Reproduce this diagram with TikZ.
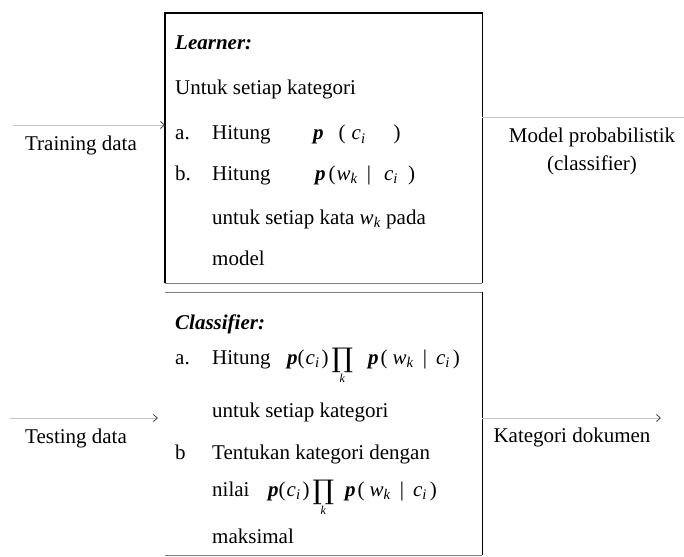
\documentclass[tikz,border=0pt]{standalone}
\usepackage{fontspec}
\setmainfont{Liberation Serif}
\newfontfamily\symfnt{DejaVu Serif}
\usetikzlibrary{arrows.meta}
\newcommand{\sbi}[1]{\textsubscript{\textit{#1}}}
\newcommand{\pp}{\textbf{\textit{p}}}
\newcommand{\prodk}{\raisebox{-3pt}{\symfnt\fontsize{27}{27}\selectfont\char"220F}\makebox[0pt][r]{\raisebox{-18pt}{\fontsize{12}{12}\selectfont\textit{k}}\hspace{8pt}}}
\newcommand{\formula}[1]{\pp(\hspace{1pt}\textit{c}\sbi{i}\hspace{2pt})\hspace{3pt}\prodk\hspace{#1}\pp\hspace{2pt}(\hspace{5pt}\textit{w}\sbi{k}\hspace{9pt}|\hspace{9pt}\textit{c}\sbi{i}\hspace{3pt})}
\begin{document}
\begin{tikzpicture}[x=1pt,y=-1pt,
  txt/.style={anchor=base west,inner sep=0pt,font=\fontsize{21}{25}\selectfont},
  lbl/.style={inner sep=0pt,align=center,font=\fontsize{21}{28}\selectfont},
  frame/.style={draw=black,line width=1.4pt},
  thinline/.style={draw=black!50,line width=0.8pt},
  conn/.style={draw=black!22,line width=0.8pt},
  tip/.style={-{Straight Barb[length=4pt,width=7pt,color=black!75]}},
  boxarea/.style={inner sep=0pt,anchor=north west,minimum width=317pt}]
\useasboundingbox (0,0) rectangle (684,556);
% boxes
\node[boxarea,minimum height=270pt] (learner) at (165,13) {};
\node[boxarea,minimum height=263pt] (classifier) at (165,292) {};
\draw[frame] (learner.south west) -- (learner.north west) -- (learner.north east) -- (learner.south east);
\draw[thinline] (learner.south west) -- (learner.south east);
\draw[thinline] (classifier.north west) -- (classifier.north east);
\draw[frame] (classifier.north east) -- (classifier.south east);
\draw[thinline] (classifier.south west) -- (classifier.south east);
% learner text
\node[txt,font=\fontsize{21}{25}\selectfont\bfseries\itshape] (lt) at (175,50) {Learner:};
\node[txt] (l1) at (175,95) {Untuk setiap kategori};
\node[txt] (la) at (175,140) {a.};
\node[txt] (lah) at (212,140) {Hitung};
\node[txt] (laf) at (313,140) {\pp\hspace{15pt}(\hspace{6pt}\textit{c}\sbi{i}\hspace{28pt})};
\node[txt] (lb) at (175,180) {b.};
\node[txt] (lbh) at (212,180) {Hitung};
\node[txt] (lbf) at (315,180) {\pp\hspace{3pt}(\hspace{1pt}\textit{w}\sbi{k}\hspace{9pt}|\hspace{13pt}\textit{c}\sbi{i}\hspace{10pt})};
\node[txt] (lc) at (212,224) {untuk setiap kata \textit{w}\sbi{k} pada};
\node[txt] (ld) at (212,265) {model};
% classifier text
\node[txt,font=\fontsize{21}{25}\selectfont\bfseries\itshape] (ct) at (175,329) {Classifier:};
\node[txt] (ca) at (175,364) {a.};
\node[txt] (cah) at (212,364) {Hitung};
\node[txt] (caf) at (287,364) {\formula{15pt}};
\node[txt] (cc) at (212,417) {untuk setiap kategori};
\node[txt] (cb) at (175,459) {b};
\node[txt] (cbh) at (212,459) {Tentukan kategori dengan};
\node[txt] (cd) at (212,496) {nilai};
\node[txt] (cdf) at (268,496) {\formula{11pt}};
\node[txt] (ce) at (212,543) {maksimal};
% side labels
\node[lbl] (train) at (81,145) {Training data};
\node[lbl] (test) at (76,438) {Testing data};
\node[lbl] (model) at (592,151) {Model probabilistik\\(classifier)};
\node[lbl] (kat) at (572,437) {Kategori dokumen};
% connectors
\coordinate (trs) at (13,125);
\coordinate (tes) at (10,418);
\coordinate (tee) at (158,418);
\coordinate (mpe) at (684,117);
\coordinate (kde) at (661,418);
\draw[conn,tip] (trs) -- (trs -| learner.west);
\draw[conn,tip] (tes) -- (tee);
\draw[conn] (mpe -| learner.east) -- (mpe);
\draw[conn,tip] (kde -| classifier.east) -- (kde);
\end{tikzpicture}
\end{document}
